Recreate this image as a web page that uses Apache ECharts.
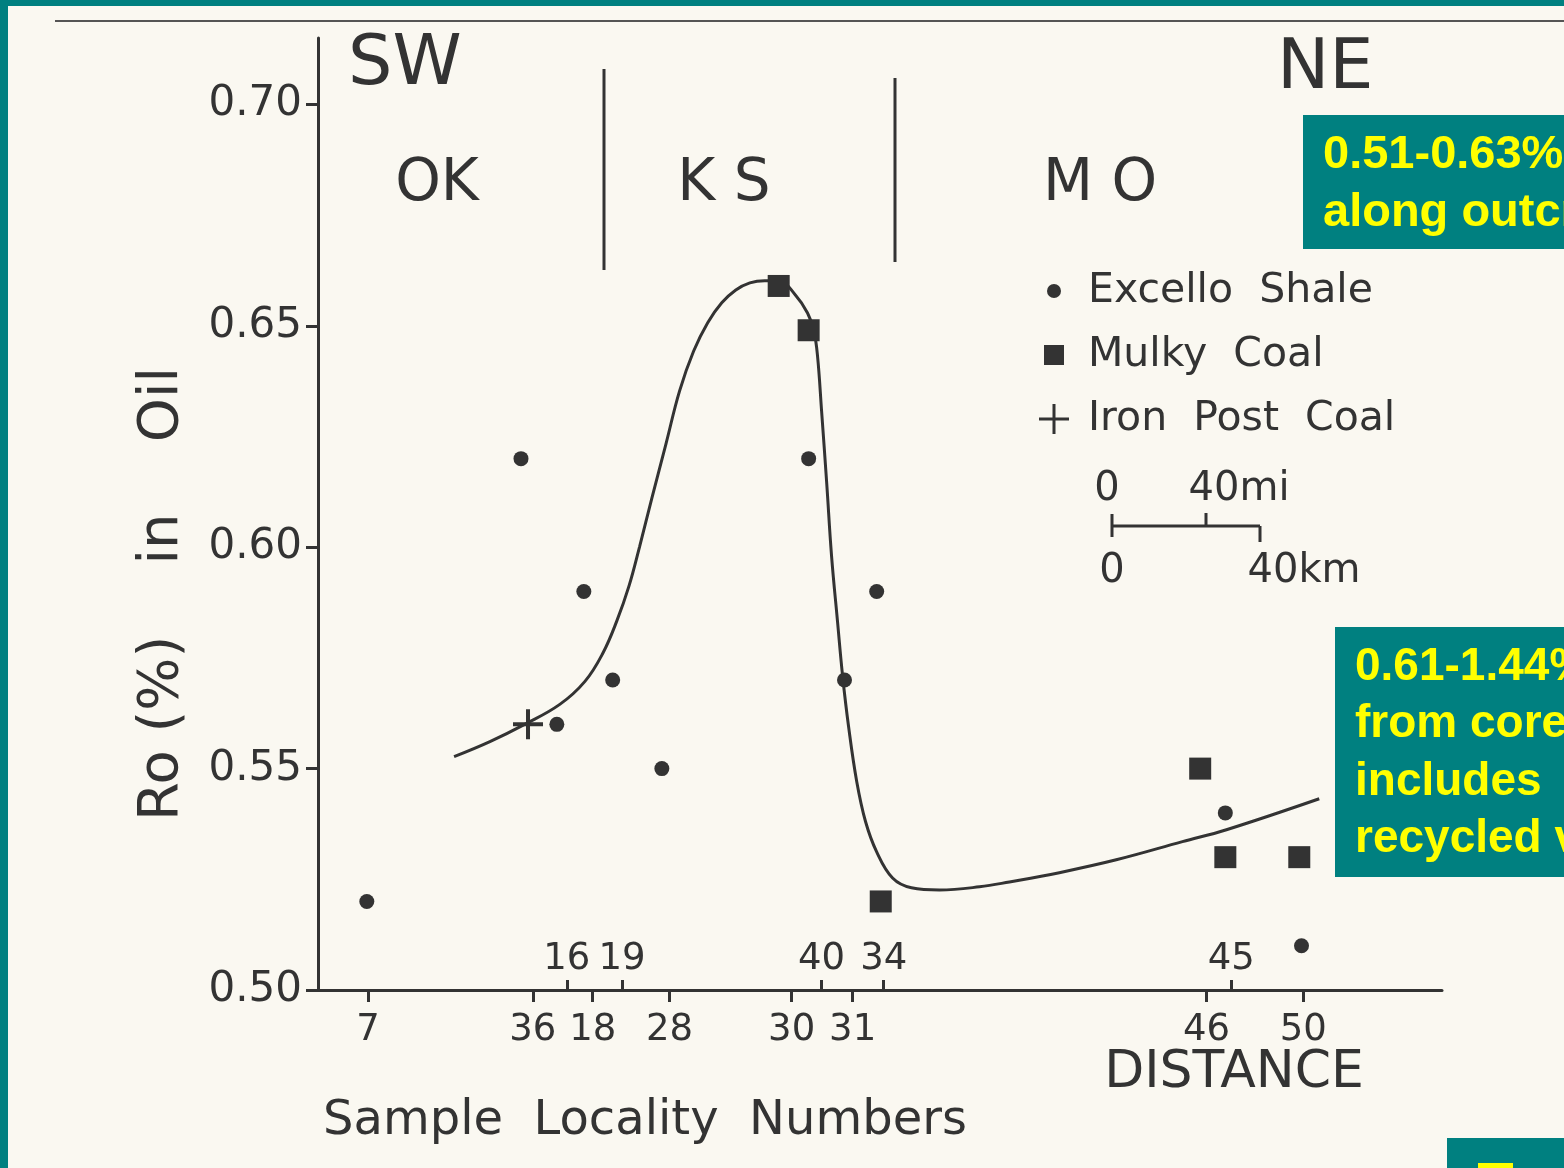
<!DOCTYPE html>
<html><head><meta charset="utf-8">
<script src="https://cdn.jsdelivr.net/npm/echarts@6/dist/echarts.min.js"></script>
<style>html,body{margin:0;padding:0;background:#faf8f1;}#c{width:1564px;height:1168px;}</style>
</head><body><div id="c"></div>
<script>
// ---- data (distance along outcrop, km from the y axis; Ro in %) ----
const yTicks = [0.50, 0.55, 0.60, 0.65, 0.70];
const belowLabels = ['7', '36', '18', '28', '30', '31', '46', '50'];
const belowDist   = [13.5, 58.1, 74.3, 95.1, 128.1, 144.6, 240.3, 266.5];
const aboveLabels = ['16', '19', '40', '34', '45'];
const aboveDist   = [67.3, 82.2, 136.2, 153.0, 247.0];

const excelloDist = [13.2, 54.9, 71.9, 79.7, 64.6, 93.0, 132.7, 151.1, 142.4, 245.4, 266.0];
const excelloRo   = [0.520, 0.620, 0.590, 0.570, 0.560, 0.550, 0.620, 0.590, 0.570, 0.540, 0.510];

const mulkyDist = [124.6, 132.7, 152.2, 238.6, 245.4, 265.4];
const mulkyRo   = [0.659, 0.649, 0.520, 0.550, 0.530, 0.530];

const ironDist = [56.8];
const ironRo   = [0.560];

const curveDist = [36.8, 46.5, 55.9, 65.4, 72.2, 77.0, 80.8, 84.1, 87.0, 90.3, 94.1, 97.8, 101.6, 105.4, 109.2, 113.0, 116.8, 120.8, 124.6, 128.9, 132.4, 134.1, 135.1, 136.2, 137.6, 138.9, 140.5, 141.9, 143.5, 145.7, 148.1, 151.1, 155.4, 160.5, 168.1, 178.9, 187.0, 200.5, 215.9, 233.8, 245.7, 270.8];
const curveRo   = [0.5527, 0.5561, 0.5600, 0.5645, 0.5697, 0.5760, 0.5833, 0.5912, 0.6002, 0.6111, 0.6233, 0.6353, 0.6443, 0.6507, 0.6552, 0.6581, 0.6597, 0.6602, 0.6602, 0.6572, 0.6529, 0.6489, 0.6432, 0.6308, 0.6143, 0.5980, 0.5833, 0.5708, 0.5595, 0.5471, 0.5380, 0.5312, 0.5253, 0.5231, 0.5226, 0.5233, 0.5244, 0.5265, 0.5294, 0.5335, 0.5362, 0.5432];

const zip = (a, b) => a.map((v, i) => [v, b[i]]);
const INK = '#333333';
const FONT = 'DejaVu Sans';
const TEAL = '#008080';
const YEL = '#ffff00';
const plusPath = 'path://M13,0h4v30h-4z M0,13h30v4h-30z';
// legend icons drawn inside a 30x30 box so their relative sizes match the figure
const legCircle = 'path://M0,0 M30,30 M15,8 a7,7 0 1,1 0,14 a7,7 0 1,1 0,-14z';
const legSquare = 'path://M0,0 M30,30 M5,5 h20 v20 h-20z';
const legPlus = 'path://M13.5,0h3v30h-3z M0,13.5h30v3h-30z';

const labelFor = (dists, labels) => v => {
  const i = dists.findIndex(d => Math.abs(d - v) < 1e-6);
  return i >= 0 ? labels[i] : '';
};

const chart = echarts.init(document.getElementById('c'), null, {renderer: 'canvas'});
chart.setOption({
  animation: false,
  backgroundColor: '#faf8f1',
  grid: {left: 318, right: 122, top: 38, bottom: 178},
  xAxis: [
    {
      type: 'value', min: 0, max: 304, position: 'bottom', offset: 0,
      axisLine: {show: true, onZero: false, lineStyle: {color: INK, width: 3}},
      axisTick: {show: true, length: 12, customValues: belowDist, lineStyle: {color: INK, width: 3}},
      axisLabel: {show: true, customValues: belowDist, margin: 22, formatter: labelFor(belowDist, belowLabels),
        color: INK, fontFamily: FONT, fontSize: 37},
      splitLine: {show: false}
    },
    {
      type: 'value', min: 0, max: 304, position: 'bottom', offset: 0,
      axisLine: {show: false, onZero: false},
      axisTick: {show: true, inside: true, length: 10, customValues: aboveDist, lineStyle: {color: INK, width: 3}},
      axisLabel: {show: true, inside: true, customValues: aboveDist, margin: 12, formatter: labelFor(aboveDist, aboveLabels),
        color: INK, fontFamily: FONT, fontSize: 37},
      splitLine: {show: false}
    }
  ],
  yAxis: {
    type: 'value', min: 0.5, max: 0.715, interval: 0.05,
    axisLine: {show: true, onZero: false, lineStyle: {color: INK, width: 3}},
    axisTick: {show: true, length: 12, customValues: yTicks, lineStyle: {color: INK, width: 3}},
    axisLabel: {show: true, customValues: yTicks, margin: 16, formatter: v => v.toFixed(2),
      color: INK, fontFamily: FONT, fontSize: 42},
    splitLine: {show: false}
  },
  legend: {
    orient: 'vertical', left: 1034, top: 262, itemWidth: 30, itemHeight: 30, itemGap: 16,
    selectedMode: false,
    itemStyle: {color: INK, opacity: 1},
    textStyle: {color: INK, fontFamily: FONT, fontSize: 41, lineHeight: 48, padding: [0, 0, 0, 14]},
    data: [
      {name: 'Excello  Shale', icon: legCircle},
      {name: 'Mulky  Coal', icon: legSquare},
      {name: 'Iron  Post  Coal', icon: legPlus}
    ]
  },
  series: [
    {
      name: 'trend', type: 'line', data: zip(curveDist, curveRo), showSymbol: false,
      smooth: 0.4,
      lineStyle: {color: INK, width: 3}, z: 2
    },
    {
      name: 'Excello  Shale', type: 'scatter', data: zip(excelloDist, excelloRo),
      symbol: 'circle', symbolSize: 15, itemStyle: {color: INK, opacity: 1}, z: 3
    },
    {
      name: 'Mulky  Coal', type: 'scatter', data: zip(mulkyDist, mulkyRo),
      symbol: 'rect', symbolSize: 22, itemStyle: {color: INK, opacity: 1}, z: 3
    },
    {
      name: 'Iron  Post  Coal', type: 'scatter', data: zip(ironDist, ironRo),
      symbol: plusPath, symbolSize: 30, itemStyle: {color: INK, opacity: 1}, z: 3
    }
  ],
  graphic: [
    // page frame / scan rule
    {type: 'rect', shape: {x: 0, y: 0, width: 8, height: 1168}, style: {fill: TEAL}, z: 10},
    {type: 'rect', shape: {x: 0, y: 0, width: 1564, height: 6}, style: {fill: TEAL}, z: 10},
    {type: 'line', shape: {x1: 55, y1: 21, x2: 1564, y2: 21}, style: {stroke: '#555', lineWidth: 2}},
    // state dividers
    {type: 'line', shape: {x1: 604, y1: 69, x2: 604, y2: 270}, style: {stroke: INK, lineWidth: 3}},
    {type: 'line', shape: {x1: 895, y1: 78, x2: 895, y2: 262}, style: {stroke: INK, lineWidth: 3}},
    // direction & state labels
    {type: 'text', x: 348, y: 66, style: {text: 'SW', fill: INK, font: '70px "DejaVu Sans"', verticalAlign: 'middle', align: 'left'}},
    {type: 'text', x: 1277, y: 70, style: {text: 'NE', fill: INK, font: '70px "DejaVu Sans"', verticalAlign: 'middle', align: 'left'}},
    {type: 'text', x: 437, y: 185, style: {text: 'OK', fill: INK, font: '58px "DejaVu Sans"', verticalAlign: 'middle', align: 'center'}},
    {type: 'text', x: 724, y: 185, style: {text: 'K S', fill: INK, font: '58px "DejaVu Sans"', verticalAlign: 'middle', align: 'center'}},
    {type: 'text', x: 1100, y: 185, style: {text: 'M O', fill: INK, font: '58px "DejaVu Sans"', verticalAlign: 'middle', align: 'center'}},
    // axis titles
    {type: 'text', x: 162, y: 594, rotation: Math.PI / 2,
      style: {text: 'Ro (%)    in    Oil', fill: INK, font: '56px "DejaVu Sans"', verticalAlign: 'middle', align: 'center'}},
    {type: 'text', x: 645, y: 1122, style: {text: 'Sample  Locality  Numbers', fill: INK, font: '48px "DejaVu Sans"', verticalAlign: 'middle', align: 'center'}},
    {type: 'text', x: 1234, y: 1073, style: {text: 'DISTANCE', fill: INK, font: '52px "DejaVu Sans"', verticalAlign: 'middle', align: 'center'}},
    // scale bar
    {type: 'text', x: 1107, y: 490, style: {text: '0', fill: INK, font: '40px "DejaVu Sans"', verticalAlign: 'middle', align: 'center'}},
    {type: 'text', x: 1239, y: 490, style: {text: '40mi', fill: INK, font: '40px "DejaVu Sans"', verticalAlign: 'middle', align: 'center'}},
    {type: 'text', x: 1112, y: 572, style: {text: '0', fill: INK, font: '40px "DejaVu Sans"', verticalAlign: 'middle', align: 'center'}},
    {type: 'text', x: 1304, y: 572, style: {text: '40km', fill: INK, font: '40px "DejaVu Sans"', verticalAlign: 'middle', align: 'center'}},
    {type: 'line', shape: {x1: 1112, y1: 526, x2: 1260, y2: 526}, style: {stroke: INK, lineWidth: 3}},
    {type: 'line', shape: {x1: 1112, y1: 514, x2: 1112, y2: 537}, style: {stroke: INK, lineWidth: 3}},
    {type: 'line', shape: {x1: 1206, y1: 513, x2: 1206, y2: 526}, style: {stroke: INK, lineWidth: 3}},
    {type: 'line', shape: {x1: 1260, y1: 526, x2: 1260, y2: 542}, style: {stroke: INK, lineWidth: 3}},
    // teal annotation boxes
    {type: 'rect', shape: {x: 1303, y: 115, width: 300, height: 134}, style: {fill: TEAL}, z: 20},
    {type: 'text', x: 1323, y: 155, z: 21, style: {text: '0.51-0.63%', fill: YEL, font: 'bold 47px "Liberation Sans"', verticalAlign: 'middle', align: 'left'}},
    {type: 'text', x: 1323, y: 213, z: 21, style: {text: 'along outcrop', fill: YEL, font: 'bold 47px "Liberation Sans"', verticalAlign: 'middle', align: 'left'}},
    {type: 'rect', shape: {x: 1335, y: 627, width: 300, height: 250}, style: {fill: TEAL}, z: 20},
    {type: 'text', x: 1355, y: 667, z: 21, style: {text: '0.61-1.44%', fill: YEL, font: 'bold 46px "Liberation Sans"', verticalAlign: 'middle', align: 'left'}},
    {type: 'text', x: 1355, y: 724, z: 21, style: {text: 'from cores,', fill: YEL, font: 'bold 46px "Liberation Sans"', verticalAlign: 'middle', align: 'left'}},
    {type: 'text', x: 1355, y: 782, z: 21, style: {text: 'includes', fill: YEL, font: 'bold 46px "Liberation Sans"', verticalAlign: 'middle', align: 'left'}},
    {type: 'text', x: 1355, y: 839, z: 21, style: {text: 'recycled vitrinite', fill: YEL, font: 'bold 46px "Liberation Sans"', verticalAlign: 'middle', align: 'left'}},
    {type: 'rect', shape: {x: 1447, y: 1138, width: 130, height: 40}, style: {fill: TEAL}, z: 20},
    {type: 'rect', shape: {x: 1478, y: 1163, width: 35, height: 10}, style: {fill: YEL}, z: 21}
  ]
});
</script>
</body></html>
